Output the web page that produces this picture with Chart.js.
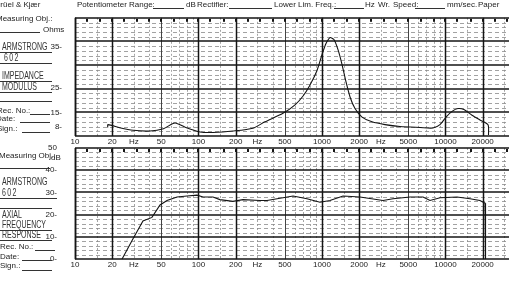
<!DOCTYPE html>
<html>
<head>
<meta charset="utf-8">
<title>Armstrong 602 - impedance and axial response</title>
<script src="https://cdn.jsdelivr.net/npm/chart.js@4.4.1/dist/chart.umd.min.js"></script>
<style>
    html, body { margin: 0; padding: 0; background: #fff; }
    #sheet {
        position: relative; width: 509px; height: 282px; overflow: hidden; background: #fff;
        font-family: "Liberation Sans", Arial, sans-serif; color: #1c1c1c;
    }
    #sheet canvas { position: absolute; left: 0; top: 0; }
    .t { position: absolute; z-index: 2; font-size: 8px; line-height: 8px; white-space: nowrap; }
    .h {
        position: absolute; z-index: 2; font-size: 10px; line-height: 10px; white-space: nowrap;
        color: #333; transform: scaleX(0.7); transform-origin: left top;
    }
    .ln { position: absolute; z-index: 2; height: 0; border-top: 1px solid #333; }
</style>
</head>
<body>
<div id="sheet">
    <canvas id="impedanceChart" width="509" height="282"></canvas>
    <canvas id="responseChart" width="509" height="282"></canvas>

    <!-- header of the recorder paper -->
    <div class="t" style="left:-5px;top:1px">Brüel &amp; Kjær</div>
    <div class="t" style="left:77px;top:1px">Potentiometer Range:</div>
    <div class="ln" style="left:153px;top:8px;width:31px"></div>
    <div class="t" style="left:186px;top:1px">dB</div>
    <div class="t" style="left:197px;top:1px">Rectifier:</div>
    <div class="ln" style="left:229px;top:8px;width:43px"></div>
    <div class="t" style="left:274px;top:1px">Lower Lim. Freq.:</div>
    <div class="ln" style="left:334px;top:8px;width:30px"></div>
    <div class="t" style="left:365px;top:1px">Hz</div>
    <div class="t" style="left:378px;top:1px">Wr.</div>
    <div class="t" style="left:393px;top:1px">Speed:</div>
    <div class="ln" style="left:415px;top:8px;width:30px"></div>
    <div class="t" style="left:447px;top:1px">mm/sec.</div>
    <div class="t" style="left:478px;top:1px">Paper</div>

    <!-- upper form -->
    <div class="t" style="left:-4px;top:15px">Measuring Obj.:</div>
    <div class="ln" style="left:0;top:32px;width:40px"></div>
    <div class="t" style="left:43px;top:26px">Ohms</div>
    <div class="h" style="left:2px;top:42px">ARMSTRONG</div>
    <div class="ln" style="left:0;top:52px;width:52px"></div>
    <div class="h" style="left:4px;top:53px;letter-spacing:2px">602</div>
    <div class="ln" style="left:0;top:63px;width:52px"></div>
    <div class="h" style="left:2px;top:71px">IMPEDANCE</div>
    <div class="ln" style="left:0;top:81px;width:52px"></div>
    <div class="h" style="left:2px;top:82px">MODULUS</div>
    <div class="ln" style="left:0;top:92px;width:52px"></div>
    <div class="ln" style="left:0;top:101px;width:52px"></div>
    <div class="t" style="left:-3px;top:107px">Rec. No.:</div>
    <div class="ln" style="left:30px;top:114px;width:20px"></div>
    <div class="t" style="left:-4px;top:115px">Date:</div>
    <div class="ln" style="left:20px;top:122px;width:30px"></div>
    <div class="t" style="left:-3px;top:125px">Sign.:</div>
    <div class="ln" style="left:22px;top:132px;width:28px"></div>

    <!-- lower form -->
    <div class="t" style="left:-1px;top:152px">Measuring Obj.:</div>
    <div class="t" style="left:51px;top:154px">dB</div>
    <div class="ln" style="left:0;top:168px;width:50px"></div>
    <div class="h" style="left:2px;top:177px">ARMSTRONG</div>
    <div class="h" style="left:2px;top:188px;letter-spacing:2px">602</div>
    <div class="ln" style="left:0;top:198px;width:57px"></div>
    <div class="ln" style="left:0;top:208px;width:52px"></div>
    <div class="h" style="left:2px;top:210px">AXIAL</div>
    <div class="h" style="left:2px;top:220px">FREQUENCY</div>
    <div class="ln" style="left:0;top:230px;width:52px"></div>
    <div class="h" style="left:2px;top:230px">RESPONSE</div>
    <div class="ln" style="left:0;top:240px;width:52px"></div>
    <div class="t" style="left:0;top:243px">Rec. No.:</div>
    <div class="ln" style="left:35px;top:250px;width:20px"></div>
    <div class="t" style="left:0;top:253px">Date:</div>
    <div class="ln" style="left:22px;top:260px;width:30px"></div>
    <div class="t" style="left:0;top:262px">Sign.:</div>
    <div class="ln" style="left:22px;top:270px;width:30px"></div>
</div>

<script>
// frequency axis (shared by both panels)
const freqTicks = [10, 20, 30, 50, 100, 200, 300, 500, 1000, 2000, 3000, 5000, 10000, 20000];
const freqTickLabels = ['10', '20', 'Hz', '50', '100', '200', 'Hz', '500', '1000', '2000', 'Hz', '5000', '10000', '20000'];

// upper panel: handwritten ohm marks on the 50 dB paper scale
const impTickValues = [37.8, 20.4, 9.7, 3.7];
const impTickLabels = ['35-', '25-', '15-', '8-'];

// lower panel: dB scale
const dbTickValues = [0, 10, 20, 30, 40, 50];
const dbTickLabels = ['0-', '10-', '20-', '30-', '40-', '50'];

// impedance modulus trace (Hz, paper units)
const impFreq = [18.4, 18.5, 23, 29.5, 40.5, 52, 64.5, 78, 103, 131, 190, 276, 345, 483, 605, 700, 800, 910,
    1000, 1080, 1160, 1250, 1350, 1450, 1560, 1690, 1850, 2110, 2540, 3240, 4280, 6220, 7920, 9030,
    10100, 11300, 12600, 14100, 16400, 19000, 22100, 22300];
const impLevel = [3.6, 4.8, 3.5, 2.4, 2.1, 3.1, 5.5, 3.7, 1.7, 1.5, 2.1, 3.3, 6.0, 9.6, 13.2, 16.8, 21.6, 27.6,
    34.4, 39.2, 41.6, 40.8, 36.4, 30.4, 23.2, 16.4, 11.6, 8.0, 6.0, 4.8, 4.0, 3.6, 3.4, 4.8,
    8.0, 10.4, 11.6, 11.2, 8.8, 6.8, 4.8, 0.4];

// axial frequency response trace (Hz, dB)
const respFreq = [24, 29.5, 35.5, 42, 48.8, 55.6, 67, 80.7, 97, 109, 131, 149, 190, 229, 315, 359, 583, 756,
    963, 1160, 1480, 2030, 3120, 3760, 5160, 6580, 7490, 9030, 12400, 15800, 19000, 20900, 21100];
const respLevel = [0, 9.2, 17.2, 18.8, 24.4, 26.4, 28, 28.4, 28.8, 28, 28, 26.8, 26, 26.8, 26.4, 26.4, 28.4, 27.2,
    25.6, 26.4, 28.4, 28, 26.4, 27.2, 28, 28, 26.4, 27.6, 28, 27.2, 26.4, 25.2, 0];

// paper grid
const gridMajorMult = [1, 2];
const gridMidMult = [5];
const gridMinorMult = [1.5, 3, 4, 6, 7, 8, 9];
const thirdOctaveMult = [1, 1.25, 1.6, 2, 2.5, 3.15, 4, 5, 6.3, 8];
const decades = [10, 100, 1000, 10000];

(function () {
    const FREQ_MAX = 32680;
    const INK = '#141414';
    const FONT = { family: '"Liberation Sans", Arial, sans-serif', size: 8 };

    function vLine(ctx, x, area, px, width, color, dash) {
        const p = x.getPixelForValue(px);
        if (p < area.left - 0.5 || p > area.right + 0.5) return;
        ctx.beginPath();
        ctx.lineWidth = width;
        ctx.strokeStyle = color;
        ctx.setLineDash(dash);
        ctx.moveTo(Math.round(p) + 0.5, area.top);
        ctx.lineTo(Math.round(p) + 0.5, area.bottom);
        ctx.stroke();
    }

    const paperGrid = {
        id: 'paperGrid',
        beforeDatasetsDraw(chart) {
            const { ctx, chartArea: a, scales } = chart;
            const x = scales.x;
            const y = scales.y;
            ctx.save();

            // 2 dB dashed rulings, every 10 dB heavy
            for (let v = 2; v < 50; v += 2) {
                if (v % 10 === 0) continue;
                const py = Math.round(y.getPixelForValue(v)) + 0.5;
                ctx.beginPath();
                ctx.lineWidth = 0.8;
                ctx.strokeStyle = '#8a8a8a';
                ctx.setLineDash([4, 3]);
                ctx.moveTo(a.left, py);
                ctx.lineTo(a.right, py);
                ctx.stroke();
            }

            decades.forEach((d) => {
                gridMinorMult.forEach((m) => vLine(ctx, x, a, d * m, 0.8, '#8f8f8f', [2, 2]));
            });
            decades.forEach((d) => {
                gridMidMult.forEach((m) => vLine(ctx, x, a, d * m, 1, '#444', []));
                gridMajorMult.forEach((m) => vLine(ctx, x, a, d * m, 1.5, INK, []));
            });

            for (let v = 0; v <= 50; v += 10) {
                const py = Math.round(y.getPixelForValue(v));
                ctx.beginPath();
                ctx.lineWidth = 1.6;
                ctx.strokeStyle = INK;
                ctx.setLineDash([]);
                ctx.moveTo(a.left, py);
                ctx.lineTo(a.right, py);
                ctx.stroke();
            }

            // left edge of the paper
            ctx.beginPath();
            ctx.lineWidth = 1.5;
            ctx.strokeStyle = INK;
            ctx.moveTo(a.left + 0.5, a.top);
            ctx.lineTo(a.left + 0.5, a.bottom);
            ctx.stroke();

            // 1/3 octave marks hanging from the top edge
            ctx.fillStyle = INK;
            decades.forEach((d) => {
                thirdOctaveMult.forEach((m) => {
                    const p = x.getPixelForValue(d * m);
                    if (p > a.left + 3 && p < a.right) {
                        ctx.fillRect(Math.round(p) - 1, a.top + 1, 2, 3);
                    }
                });
            });
            ctx.restore();
        },
    };

    function createPanel(canvasId, freq, level, yValues, yLabels, padding, xHeight, yPad, tension) {
        const canvas = document.getElementById(canvasId);
        if (!canvas) return null;

        return new Chart(canvas.getContext('2d'), {
            type: 'line',
            data: {
                datasets: [
                    {
                        data: freq.map((f, i) => ({ x: f, y: level[i] })),
                        borderColor: INK,
                        borderWidth: 1.1,
                        pointRadius: 0,
                        fill: false,
                        tension: tension,
                    },
                ],
            },
            options: {
                responsive: false,
                animation: false,
                devicePixelRatio: 1,
                layout: { padding: padding },
                plugins: {
                    legend: { display: false },
                    tooltip: { enabled: false },
                },
                scales: {
                    x: {
                        type: 'logarithmic',
                        min: 10,
                        max: FREQ_MAX,
                        grid: { display: false, drawTicks: false },
                        border: { display: false },
                        afterBuildTicks: (scale) => {
                            scale.ticks = freqTicks.map((v) => ({ value: v }));
                        },
                        afterFit: (scale) => {
                            scale.height = xHeight;
                        },
                        ticks: {
                            autoSkip: false,
                            maxRotation: 0,
                            padding: 1,
                            color: '#1c1c1c',
                            font: FONT,
                            callback: (value, index) => freqTickLabels[index],
                        },
                    },
                    y: {
                        type: 'linear',
                        min: 0,
                        max: 50,
                        grid: { display: false, drawTicks: false },
                        border: { display: false },
                        afterBuildTicks: (scale) => {
                            scale.ticks = yValues.map((v) => ({ value: v }));
                        },
                        afterFit: (scale) => {
                            scale.width = 75;
                        },
                        ticks: {
                            padding: yPad,
                            color: '#1c1c1c',
                            font: FONT,
                            callback: (value, index) => yLabels[index],
                        },
                    },
                },
            },
            plugins: [paperGrid],
        });
    }

    function init() {
        if (typeof Chart === 'undefined') {
            console.warn('Chart.js not found.');
            return;
        }
        createPanel('impedanceChart', impFreq, impLevel, impTickValues, impTickLabels,
            { top: 11, left: 0, right: 0, bottom: 136 }, 10, 13, 0.25);
        createPanel('responseChart', respFreq, respLevel, dbTickValues, dbTickLabels,
            { top: 148, left: 0, right: 0, bottom: 0 }, 9, 18, 0);
    }

    if (document.readyState === 'loading') {
        document.addEventListener('DOMContentLoaded', init);
    } else {
        init();
    }
})();
</script>
</body>
</html>
